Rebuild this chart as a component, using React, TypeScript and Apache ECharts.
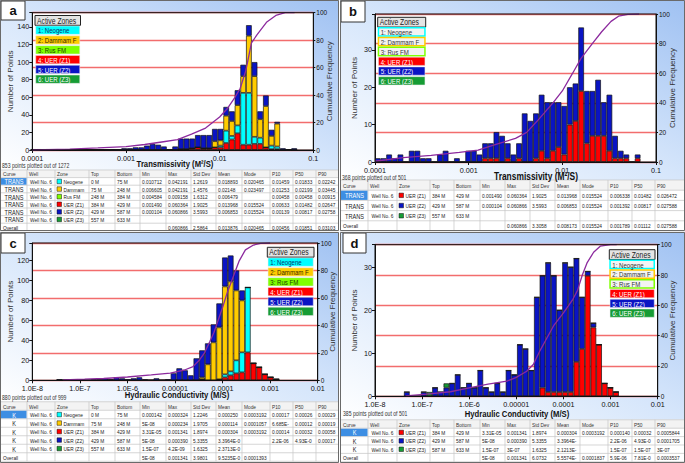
import React, { useEffect, useRef } from "react";
import * as echarts from "echarts";

const SANS = '"Liberation Sans", Arial, sans-serif';
const SQ = 0.8; // horizontal squeeze of the reference's lettering

// ---------------- zones ----------------
const zoneNames = ["Neogene", "Dammam FM", "Rus FM", "UER (Z1)", "UER (Z2)", "UER (Z3)"];
const zoneColors = ["#00ffff", "#ffcc00", "#80ff00", "#ff0000", "#0a14c4", "#169c34"];
const zoneTextColors = ["#10306e", "#3a2800", "#204000", "#ffffff", "#ffffff", "#ffffff"];
const stackOrder = [3, 0, 1, 2, 4, 5];

// ---------------- tick labels ----------------
const transTickLabels = ["0.0001", "0.001", "0.01", "0.1"];
const condTickLabels = ["1.0E-8", "1.0E-7", "1.0E-6", "0.00001", "0.0001", "0.001", "0.01"];
const tableHeader = ["Curve", "Well", "Zone", "Top", "Bottom", "Min", "Max", "Std Dev", "Mean", "Mode", "P10", "P50", "P90"];

// ---------------- panel a : Transmissivity, all zones (log10 bins) ----------------
const aBinStart = -4.017;
const aBinWidth = 0.0605;
const aNeogene = [0,0,0,0,0,0,0,0,0,0, 0,0,0,0,0,0,0,0,0,0, 0,0,0,0,0,0,0,0,0,0, 0,0,0,2,14,4,9,59,59,8, 7,0,4,3,0,0,0];
const aDammam = [0,0,0,0,0,0,0,0,0,0, 0,0,0,0,0,0,0,0,0,0, 0,0,0,0,0,0,0,0,0,0, 0,0,7,6,17,17,23,19,65,69, 21,47,11,26,0,0,0];
const aZ1 = [0,0,0,0,0,0,0,0,0,0, 0,0,0,0,0,0,0,0,0,0, 0,0,0,0,0,0,1,1,2,3, 2,2,3,3,8,12,19,6,6,7, 7,3,1,1,0,0,0];
const aZ2 = [1,1,1,0,0,0,1,1,0,0, 0,0,1,0,1,0,2,2,3,3, 5,7,6,4,1,4,12,12,11,14, 15,15,14,13,10,11,17,13,12,16, 9,12,7,2,2,0,2];
const aCurveX = [-4.0,-3.6,-3.3,-3.0,-2.8,-2.6,-2.45,-2.3,-2.15,-2.0,-1.92,-1.84,-1.78,-1.72,-1.66,-1.6,-1.5,-1.4,-1.3,-1.2];
const aCurveY = [0,0.7,1.5,2.4,4,6,7.5,11.5,16,24,30,38,45,58,78,84,93,98,100,100];

// ---------------- panel b : Transmissivity, UER zones ----------------
const bBinStart = -4.0;
const bBinWidth = 0.0603;
const bZ1 = [0,0,0,0,0,0,0,0,0,0,0,0,0,0,0,0, 0,0,0,1,1,1,0,1,0,1, 0,0,1,3,1,3,4,2,10,11, 19,5,7,7,7,3,1,1,1,0,1];
const bZ2 = [1,1,2,1,2,0,3,3,1,1,0,2,3,0,1,0, 3,3,2,4,4,7,7,4,2,4, 13,11,12,15,15,13,12,13,10,10, 17,14,12,15,9,15,6,2,1,0,1];
const bCurveX = [-4.0,-3.7,-3.4,-3.1,-2.9,-2.7,-2.5,-2.38,-2.25,-2.1,-2.0,-1.89,-1.8,-1.68,-1.58,-1.48,-1.4,-1.3,-1.18];
const bCurveY = [0.5,3,4.5,6.5,8,12,16,20,29,40,48,60,70,80,88,95,98.5,99.7,100];

// ---------------- panel c : Hydraulic conductivity, all zones ----------------
const cBinStart = -7.49;
const cBinWidth = 0.12;
const cNeogene = [0,0,0,0,0,0,0,0,0,0, 0,0,0,0,0,0,0,0,0,0, 0,0,0,0,0,0,0,0,0,3, 4,13,20,65,0,0,0,0,0];
const cDammam = [0,0,0,0,0,0,0,0,0,0, 0,0,0,0,0,0,0,0,0,0, 0,0,0,0,0,2,16,38,52,88, 90,70,52,0,0,0,0,0,0];
const cZ1 = [0,0,0,0,0,0,0,0,0,0, 0,0,0,0,0,0,0,0,0,0, 0,0,0,0,0,1,0,0,1,3, 5,7,8,28,17,13,6,3,1];
const cZ2 = [1,0,0,1,1,0,1,1,2,1, 3,2,1,2,3,1,0,2,0,1, 7,12,10,5,22,27,21,18,24,29, 26,20,10,0,0,0,0,0,0];
const cCurveX = [-7.35,-6.9,-6.5,-6.0,-5.5,-5.1,-4.8,-4.62,-4.48,-4.38,-4.27,-4.18,-4.1,-4.0,-3.9,-3.78,-3.65,-3.52,-3.35,-3.2,-3.0];
const cCurveY = [0.3,0.8,1.3,2.4,4,5.3,7.5,10,15,20,28,35,43,53,64,75,87,95,98.5,99.7,100];

// ---------------- panel d : Hydraulic conductivity, UER zones ----------------
const dBinStart = -7.385;
const dBinWidth = 0.12;
const dZ1 = [0,0,0,0,0,0,0,0,0,0, 0,0,0,0,0,0,0,0,0,0, 0,0,0,0,2,1,1,1,1,1, 8,11,28,16,12,3,2,1];
const dZ2 = [1,0,0,1,0,2,1,2,3,5, 2,3,2,6,2,1,3,1,6,5, 12,11,6,23,26,30,27,19,30,29, 24,12,1,1,0,0,0,0];
const dZ3 = [0,0,0,0,1,0,0,1,0,0, 0,0,0,0,0,0,0,0,0,0, 0,0,0,0,0,0,0,0,0,0, 0,0,0,0,0,0,0,0];
const dCurveX = [-7.35,-6.9,-6.4,-6.0,-5.6,-5.2,-5.0,-4.78,-4.64,-4.5,-4.36,-4.2,-4.0,-3.8,-3.7,-3.6,-3.5,-3.36,-3.22,-3.0,-2.87];
const dCurveY = [0.3,1.5,3,5.5,8,10,12.5,16.5,21,30,38,47,55,64,70,80,88,95,99,100,100];

// ---------------- tables ----------------
const aTable = [
  ["TRANS","Well No. 6","Neogene","0 M","75 M","0.010712","0.042191","1.2619","0.018893","0.020465","0.014599","0.018336","0.022426"],
  ["TRANS","Well No. 6","Dammam FM","75 M","248 M","0.0066054","0.042191","1.4576","0.02148","0.023497","0.012534","0.021994","0.034456"],
  ["TRANS","Well No. 6","Rus FM","248 M","384 M","0.0045843","0.0091584","1.6312","0.0064795","","0.004584","0.004584","0.009158"],
  ["TRANS","Well No. 6","UER (Z1)","384 M","429 M","0.0014907","0.060364","1.9025","0.013968","0.015524","0.006338","0.014824","0.026472"],
  ["TRANS","Well No. 6","UER (Z2)","429 M","587 M","0.0001046","0.060866","3.5993","0.0068539","0.015524","0.001392","0.008177","0.027588"],
  ["TRANS","Well No. 6","UER (Z3)","557 M","633 M","","","","","","","",""],
  ["Overall","","","","","","0.060866","2.5864","0.013876","0.020465","0.004569","0.018514","0.031039"],
];
const aTableZones = [0, 1, 2, 3, 4, 5, -1];
const bTable = [
  ["TRANS","Well No. 6","UER (Z1)","384 M","429 M","0.0014907","0.060364","1.9025","0.013968","0.015524","0.006338","0.014824","0.026472"],
  ["TRANS","Well No. 6","UER (Z2)","429 M","587 M","0.0001046","0.060866","3.5993","0.0068539","0.015524","0.001392","0.008177","0.027588"],
  ["TRANS","Well No. 6","UER (Z3)","557 M","633 M","","","","","","","",""],
  ["Overall","","","","","","0.060866","3.3058","0.0081734","0.015524","0.001789","0.011128","0.027588"],
];
const bTableZones = [3, 4, 5, -1];
const cTable = [
  ["K","Well No. 6","Neogene","0 M","75 M","0.0001425","0.0003241","1.2246","0.0002506","0.00031924","0.000173","0.000266","0.0002985"],
  ["K","Well No. 6","Dammam FM","75 M","248 M","5E-08","0.0002344","1.9705","0.0001143","0.00010571","6.685E-05","0.000121","0.0001913"],
  ["K","Well No. 6","UER (Z1)","384 M","429 M","3.31E-05","0.0013414","1.8974","0.0003049","0.00031924","0.000140","0.000328","0.0005844"],
  ["K","Well No. 6","UER (Z2)","429 M","587 M","5E-08","0.0003902","5.3355","3.3964E-05","","2.2E-06","4.93E-05","0.0001705"],
  ["K","Well No. 6","UER (Z3)","557 M","633 M","1.5E-07","4.2E-09","1.6325","2.3713E-08","","","",""],
  ["Overall","","","","","5E-08","0.0013414","3.9801","9.5235E-05","0.00013935","","",""],
];
const cTableZones = [0, 1, 3, 4, 5, -1];
const dTable = [
  ["K","Well No. 6","UER (Z1)","384 M","429 M","3.31E-05","0.0013414","1.8974","0.0003049","0.00031924","0.000140","0.000328","0.0005844"],
  ["K","Well No. 6","UER (Z2)","429 M","587 M","5E-08","0.0003902","5.3355","3.3964E-05","","2.2E-06","4.93E-05","0.0001705"],
  ["K","Well No. 6","UER (Z3)","587 M","633 M","1.5E-07","3E-07","1.6325","2.1213E-07","","1.5E-07","1.5E-07","3E-07"],
  ["Overall","","","","","5E-08","0.0013414","6.0732","5.5574E-05","0.0001837","5.9E-06","7.81E-05","0.0003537"],
];
const dTableZones = [3, 4, 5, -1];

// ---------------- layout ----------------
const leftCols = [1, 27, 55, 89, 115, 140, 166, 191, 216, 242, 270, 293, 316];
const rightCols = [341, 368, 397, 430, 454, 480, 505, 530, 555, 580, 608, 632, 655];

type Panel = {
  letter: string; frame: [number, number, number, number]; chartBottom: number;
  letterBox: [number, number, number, number];
  grid: { left: number; top: number; width: number; height: number };
  xMin: number; xMax: number; xLabels: string[]; xLabelMargin: number;
  yMax: number; yInt: number; leftGap: number; rightGap: number;
  binStart: number; binWidth: number; zones: { zone: number; values: number[] }[];
  curveX: number[]; curveY: number[];
  legend: [number, number, number, number]; active: boolean[];
  title: string; titlePos: [number, number, number];
  plotted: string; plottedPos: [number, number];
  cols: number[]; tableRight: number; tableTop: number; rowH: number;
  rows: string[][]; rowZones: number[];
};

const allOn = [true, true, true, true, true, true];
const uerOn = [false, false, false, true, true, true];

const panels: Panel[] = [
  {
    letter: "a", frame: [0, 0, 339, 231], chartBottom: 170, letterBox: [1, 1, 24, 19],
    grid: { left: 32.3, top: 12.7, width: 281, height: 137.3 },
    xMin: -4, xMax: -1, xLabels: transTickLabels, xLabelMargin: 4.5,
    yMax: 156.2, yInt: 20, leftGap: 18, rightGap: 12,
    binStart: aBinStart, binWidth: aBinWidth,
    zones: [{ zone: 0, values: aNeogene }, { zone: 1, values: aDammam }, { zone: 3, values: aZ1 }, { zone: 4, values: aZ2 }],
    curveX: aCurveX, curveY: aCurveY,
    legend: [35, 15.5, 45.5, 9.8], active: allOn,
    title: "Transmissivity (M²/S)", titlePos: [175, 164, 9.6],
    plotted: "853 points plotted out of 1272", plottedPos: [2, 166],
    cols: leftCols, tableRight: 339, tableTop: 170, rowH: 7.6, rows: aTable, rowZones: aTableZones,
  },
  {
    letter: "b", frame: [340, 0, 345, 231], chartBottom: 180, letterBox: [341, 1, 24, 21],
    grid: { left: 375, top: 14, width: 281, height: 148 },
    xMin: -4, xMax: -1, xLabels: transTickLabels, xLabelMargin: 4.5,
    yMax: 39.6, yInt: 10, leftGap: 17, rightGap: 12,
    binStart: bBinStart, binWidth: bBinWidth,
    zones: [{ zone: 3, values: bZ1 }, { zone: 4, values: bZ2 }],
    curveX: bCurveX, curveY: bCurveY,
    legend: [377.7, 17.3, 48, 9.77], active: uerOn,
    title: "Transmissivity (M²/S)", titlePos: [536, 176, 10.5],
    plotted: "368 points plotted out of 501", plottedPos: [342, 177.3],
    cols: rightCols, tableRight: 685, tableTop: 180, rowH: 10.2, rows: bTable, rowZones: bTableZones,
  },
  {
    letter: "c", frame: [0, 232, 339, 231], chartBottom: 401.75, letterBox: [1, 233, 24, 20],
    grid: { left: 32.3, top: 243, width: 285.4, height: 137.3 },
    xMin: -8, xMax: -2, xLabels: condTickLabels, xLabelMargin: 4.5,
    yMax: 137.5, yInt: 20, leftGap: 18, rightGap: 11,
    binStart: cBinStart, binWidth: cBinWidth,
    zones: [{ zone: 0, values: cNeogene }, { zone: 1, values: cDammam }, { zone: 3, values: cZ1 }, { zone: 4, values: cZ2 }],
    curveX: cCurveX, curveY: cCurveY,
    legend: [267.3, 247.3, 46.7, 9.86], active: allOn,
    title: "Hydraulic Conductivity (M/S)", titlePos: [177, 395, 9.6],
    plotted: "880 points plotted out of 999", plottedPos: [2, 397.5],
    cols: leftCols, tableRight: 339, tableTop: 401.75, rowH: 8.5, rows: cTable, rowZones: cTableZones,
  },
  {
    letter: "d", frame: [340, 232, 345, 231], chartBottom: 419.8, letterBox: [343, 233, 23, 20],
    grid: { left: 375, top: 244.7, width: 282.7, height: 151.6 },
    xMin: -8, xMax: -2, xLabels: condTickLabels, xLabelMargin: 5,
    yMax: 35.2, yInt: 10, leftGap: 17, rightGap: 11,
    binStart: dBinStart, binWidth: dBinWidth,
    zones: [{ zone: 3, values: dZ1 }, { zone: 4, values: dZ2 }, { zone: 5, values: dZ3 }],
    curveX: dCurveX, curveY: dCurveY,
    legend: [609.3, 249.7, 45.7, 9.76], active: uerOn,
    title: "Hydraulic Conductivity (M/S)", titlePos: [517, 413.5, 9.6],
    plotted: "385 points plotted out of 501", plottedPos: [343, 413.5],
    cols: rightCols, tableRight: 685, tableTop: 419.8, rowH: 8.4, rows: dTable, rowZones: dTableZones,
  },
];

// squeezed text element helper (text is real text, only scaled horizontally)
function sqText(x: number, y: number, text: string, size: number, opts: any = {}, z = 20) {
  const style: any = {
    text, fill: opts.fill || "#222", fontSize: size, fontFamily: SANS, fontWeight: opts.bold ? "bold" : "normal",
    align: opts.align || "left", verticalAlign: "middle",
  };
  if (opts.width) {
    style.width = opts.width / SQ;
    style.overflow = "truncate";
    style.ellipsis = "";
  }
  return { type: "text", z, x, y, scaleX: opts.scaleX || SQ, scaleY: 1, style };
}

function legendEls(p: Panel) {
  const [lx, ly, w, rh] = p.legend;
  const els: any[] = [];
  els.push({ type: "rect", z: 40, shape: { x: lx, y: ly, width: w, height: rh }, style: { fill: "#e4e4e4", stroke: "#222", lineWidth: 1 } });
  els.push(sqText(lx + 2, ly + rh / 2 + 0.5, "Active Zones", 8.5, { fill: "#222", width: w - 3 }, 41));
  zoneNames.forEach((nm, i) => {
    const y = ly + rh * (i + 1);
    const on = p.active[i];
    els.push({ type: "rect", z: 40, shape: { x: lx + 0.75, y: y + 0.75, width: w - 1.5, height: rh - 1.5 }, style: { fill: on ? zoneColors[i] : "#f3f3f3", stroke: on ? "#e8e8e8" : zoneColors[i], lineWidth: on ? 0.5 : 1.5 } });
    els.push(sqText(lx + 3, y + rh / 2 + 0.5, `${i + 1}: ${nm}`, 7.6, { fill: on ? zoneTextColors[i] : "#333", width: w - 4 }, 41));
  });
  return els;
}

function tableEls(p: Panel) {
  const els: any[] = [];
  const cols = p.cols;
  const right = p.tableRight;
  const top = p.tableTop;
  const bottom = p.frame[1] + p.frame[3];
  const rh = p.rowH;
  const nRows = p.rows.length + 1;
  const tblBottom = Math.min(bottom, top + nRows * rh);
  const x0 = cols[0] - 1;
  els.push({ type: "rect", z: 5, shape: { x: x0, y: top, width: right - x0, height: bottom - top }, style: { fill: "#ffffff" } });
  els.push({ type: "rect", z: 5, shape: { x: x0, y: top, width: right - x0, height: rh }, style: { fill: "#f3f3f3" } });
  for (let r = 0; r <= nRows; r++) {
    const y = top + r * rh;
    if (y > bottom) continue;
    els.push({ type: "line", z: 6, shape: { x1: x0, y1: y, x2: right, y2: y }, style: { stroke: "#c4c4c4", lineWidth: 0.7 } });
  }
  cols.forEach((cx, c) => {
    if (c === 0) return;
    els.push({ type: "line", z: 6, shape: { x1: cx, y1: top, x2: cx, y2: tblBottom }, style: { stroke: "#c4c4c4", lineWidth: 0.7 } });
  });
  const cellW = (c: number) => (c < cols.length - 1 ? cols[c + 1] : right) - cols[c];
  tableHeader.forEach((h, c) => {
    els.push(sqText(cols[c] + 2, top + rh / 2 + 0.3, h, 6, { fill: "#333", width: cellW(c) - 3 }, 8));
  });
  p.rows.forEach((row, r) => {
    const yTop = top + rh * (r + 1);
    const cy = yTop + rh / 2 + 0.3;
    const isOverall = p.rowZones[r] < 0;
    if (r === 0) {
      els.push({ type: "rect", z: 7, shape: { x: cols[0], y: yTop + 0.5, width: cellW(0) - 0.5, height: rh - 1 }, style: { fill: "#3d8ee3" } });
    }
    row.forEach((txt, c) => {
      if (!txt) return;
      let x = cols[c] + 2;
      let align = "left";
      let w = cellW(c) - 3;
      if ((c === 0 || c === 1) && !isOverall) {
        x = cols[c] + cellW(c) / 2;
        align = "center";
      }
      if (c === 2) {
        const zi = p.rowZones[r];
        els.push({ type: "rect", z: 8, shape: { x: cols[2] + 2, y: cy - 2.5, width: 4.5, height: 4.5 }, style: { fill: zoneColors[zi], stroke: "#111", lineWidth: 0.5 } });
        x = cols[2] + 8.5;
        w = cellW(c) - 9.5;
      }
      const size = c === 0 && !isOverall ? 7 : 6;
      els.push(sqText(x, cy, txt, size, { fill: r === 0 && c === 0 ? "#ffffff" : "#222", align, width: w }, 8));
    });
  });
  return els;
}

function buildOption() {
  const grid: any[] = [];
  const xAxis: any[] = [];
  const yAxis: any[] = [];
  const series: any[] = [];
  const graphic: any[] = [];

  panels.forEach((p, pi) => {
    const [fx, fy, fw, fh] = p.frame;
    graphic.push({ type: "rect", z: -10, shape: { x: fx, y: fy, width: fw, height: p.chartBottom - fy }, style: { fill: new echarts.graphic.LinearGradient(0, 1, 1, 0, [{ offset: 0, color: "#ffffff" }, { offset: 0.5, color: "#d6e6fb" }, { offset: 1, color: "#9fc1f2" }]) } });
    graphic.push({ type: "rect", z: 60, shape: { x: fx + 0.5, y: fy + 0.5, width: fw - 1, height: fh - 1 }, style: { fill: "none", stroke: "#6a6a6a", lineWidth: 1 } });
    const [bx, by, bw, bh] = p.letterBox;
    graphic.push({ type: "rect", z: 50, shape: { x: bx, y: by, width: bw, height: bh }, style: { fill: "#ffffff", stroke: "#333", lineWidth: 1 } });
    graphic.push({ type: "text", z: 51, x: bx + bw / 2, y: by + bh / 2, style: { text: p.letter, fill: "#111", fontSize: 13, fontWeight: "bold", fontFamily: SANS, align: "center", verticalAlign: "middle" } });
    const g = p.grid;
    graphic.push({ type: "rect", z: 30, shape: { x: g.left, y: g.top, width: g.width, height: g.height }, style: { fill: "none", stroke: "#111", lineWidth: 1 } });
    graphic.push(sqText(p.titlePos[0], p.titlePos[1], p.title, p.titlePos[2], { fill: "#111", bold: true, align: "center" }, 20));
    graphic.push(sqText(p.plottedPos[0], p.plottedPos[1], p.plotted, 6.4, { fill: "#333" }, 20));
    graphic.push(...legendEls(p));
    graphic.push(...tableEls(p));

    grid.push({ left: g.left, top: g.top, width: g.width, height: g.height, show: true, backgroundColor: "#ffffff", borderWidth: 0, containLabel: false, outerBoundsMode: "none" });

    xAxis.push({
      type: "value", gridIndex: pi, min: p.xMin, max: p.xMax, interval: 1,
      axisLine: { show: true, onZero: false, lineStyle: { color: "#111", width: 1 } },
      axisTick: { show: true, length: 3, lineStyle: { color: "#111" } },
      splitLine: { show: false },
      axisLabel: {
        showMinLabel: true, showMaxLabel: true, margin: p.xLabelMargin, color: "#111", fontSize: 7.2, fontFamily: SANS,
        formatter: (v: number) => p.xLabels[Math.round(v - p.xMin)] ?? "",
      },
    });
    yAxis.push({
      type: "value", gridIndex: pi, min: 0, max: p.yMax, interval: p.yInt, position: "left",
      name: "Number of Points", nameLocation: "middle", nameGap: p.leftGap, nameMoveOverlap: false,
      nameTextStyle: { fontSize: 8, fontFamily: SANS, color: "#333" },
      axisLine: { show: true, lineStyle: { color: "#111" } },
      axisTick: { show: true, length: 3, lineStyle: { color: "#111" } },
      splitLine: { show: false },
      axisLabel: { margin: 3, color: "#111", fontSize: 7.2, fontFamily: SANS, formatter: (v: number) => (Math.abs(v % p.yInt) < 1e-6 ? String(v) : "") },
    });
    yAxis.push({
      type: "value", gridIndex: pi, min: 0, max: 100, interval: 20, position: "right",
      name: "Cumulative Frequency", nameLocation: "middle", nameGap: p.rightGap, nameMoveOverlap: false,
      nameTextStyle: { fontSize: 8, fontFamily: SANS, color: "#333" },
      axisLine: { show: true, lineStyle: { color: "#111" } },
      axisTick: { show: true, length: 2, lineStyle: { color: "#111" } },
      splitLine: { show: true, lineStyle: { color: "#f26d6d", width: 1.3 } },
      axisLabel: { margin: 3, color: "#111", fontSize: 6.5, fontFamily: SANS },
    });

    const ordered = [...p.zones].sort((a, b) => stackOrder.indexOf(a.zone) - stackOrder.indexOf(b.zone));
    ordered.forEach((z) => {
      series.push({
        type: "bar", name: `${p.letter}-${zoneNames[z.zone]}`, xAxisIndex: pi, yAxisIndex: pi * 2, stack: "hist" + pi,
        stackStrategy: "all",
        barCategoryGap: "0%", barGap: "0%", silent: true,
        // values first so that the count dimension is the stacked one
        encode: { x: 1, y: 0 },
        itemStyle: { color: zoneColors[z.zone], borderColor: "#151515", borderWidth: 0.7 },
        data: z.values.map((v, i) => [v, p.binStart + p.binWidth * (i + 0.5)]),
        z: 2,
      });
    });
    series.push({
      type: "line", name: `${p.letter}-cumulative`, xAxisIndex: pi, yAxisIndex: pi * 2 + 1, silent: true,
      symbol: "none", showSymbol: false, smooth: false,
      lineStyle: { color: "#8c2a9e", width: 1.3 },
      data: p.curveX.map((x, i) => [x, p.curveY[i]]),
      z: 5,
    });
  });

  return {
    animation: false,
    backgroundColor: "#ffffff",
    tooltip: { show: false },
    grid, xAxis, yAxis, series, graphic,
  };
}

export default function App() {
  const ref = useRef<HTMLDivElement>(null);
  useEffect(() => {
    if (!ref.current) return;
    const chart = echarts.init(ref.current, null, { renderer: "svg" });
    chart.setOption(buildOption() as any);
    return () => chart.dispose();
  }, []);
  return <div ref={ref} style={{ position: "absolute", left: 0, top: 0, width: 685, height: 463 }} />;
}
